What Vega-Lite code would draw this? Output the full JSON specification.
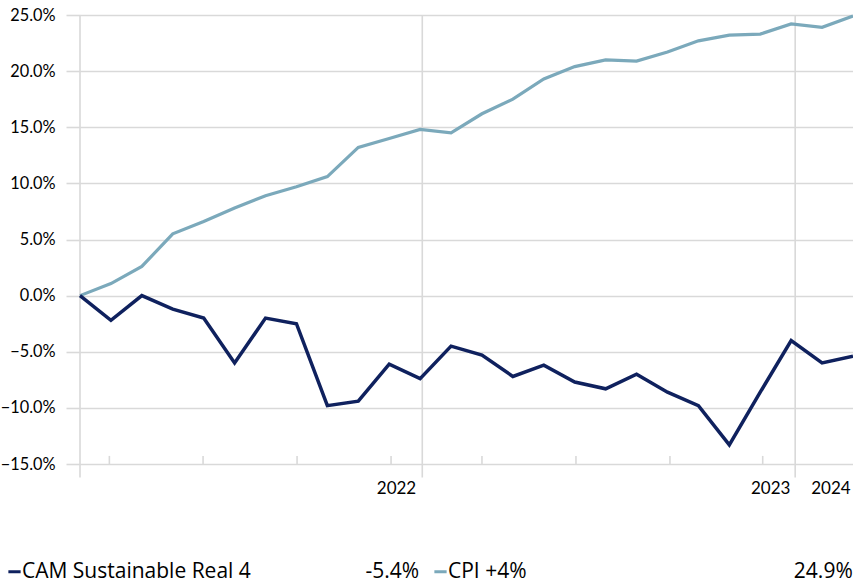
{
  "$schema": "https://vega.github.io/schema/vega-lite/v6.json",
  "width": 773,
  "height": 449,
  "autosize": {"type": "none"},
  "padding": {"left": 80, "top": 15, "right": 0, "bottom": 120},
  "background": "white",
  "config": {
    "view": {"stroke": null},
    "font": "Lato",
    "axis": {"labelFont": "Lato", "labelColor": "#000000"}
  },
  "datasets": {
    "series": [
      {"idx": 0, "series": "CPI +4%", "value": 0.0},
      {"idx": 1, "series": "CPI +4%", "value": 0.0107},
      {"idx": 2, "series": "CPI +4%", "value": 0.026},
      {"idx": 3, "series": "CPI +4%", "value": 0.055},
      {"idx": 4, "series": "CPI +4%", "value": 0.066},
      {"idx": 5, "series": "CPI +4%", "value": 0.078},
      {"idx": 6, "series": "CPI +4%", "value": 0.089},
      {"idx": 7, "series": "CPI +4%", "value": 0.097},
      {"idx": 8, "series": "CPI +4%", "value": 0.106},
      {"idx": 9, "series": "CPI +4%", "value": 0.132},
      {"idx": 10, "series": "CPI +4%", "value": 0.140},
      {"idx": 11, "series": "CPI +4%", "value": 0.148},
      {"idx": 12, "series": "CPI +4%", "value": 0.145},
      {"idx": 13, "series": "CPI +4%", "value": 0.162},
      {"idx": 14, "series": "CPI +4%", "value": 0.175},
      {"idx": 15, "series": "CPI +4%", "value": 0.193},
      {"idx": 16, "series": "CPI +4%", "value": 0.204},
      {"idx": 17, "series": "CPI +4%", "value": 0.210},
      {"idx": 18, "series": "CPI +4%", "value": 0.209},
      {"idx": 19, "series": "CPI +4%", "value": 0.217},
      {"idx": 20, "series": "CPI +4%", "value": 0.227},
      {"idx": 21, "series": "CPI +4%", "value": 0.232},
      {"idx": 22, "series": "CPI +4%", "value": 0.233},
      {"idx": 23, "series": "CPI +4%", "value": 0.242},
      {"idx": 24, "series": "CPI +4%", "value": 0.239},
      {"idx": 25, "series": "CPI +4%", "value": 0.249},
      {"idx": 0, "series": "CAM Sustainable Real 4", "value": 0.0},
      {"idx": 1, "series": "CAM Sustainable Real 4", "value": -0.022},
      {"idx": 2, "series": "CAM Sustainable Real 4", "value": 0.0},
      {"idx": 3, "series": "CAM Sustainable Real 4", "value": -0.012},
      {"idx": 4, "series": "CAM Sustainable Real 4", "value": -0.020},
      {"idx": 5, "series": "CAM Sustainable Real 4", "value": -0.060},
      {"idx": 6, "series": "CAM Sustainable Real 4", "value": -0.020},
      {"idx": 7, "series": "CAM Sustainable Real 4", "value": -0.025},
      {"idx": 8, "series": "CAM Sustainable Real 4", "value": -0.098},
      {"idx": 9, "series": "CAM Sustainable Real 4", "value": -0.094},
      {"idx": 10, "series": "CAM Sustainable Real 4", "value": -0.061},
      {"idx": 11, "series": "CAM Sustainable Real 4", "value": -0.074},
      {"idx": 12, "series": "CAM Sustainable Real 4", "value": -0.045},
      {"idx": 13, "series": "CAM Sustainable Real 4", "value": -0.053},
      {"idx": 14, "series": "CAM Sustainable Real 4", "value": -0.072},
      {"idx": 15, "series": "CAM Sustainable Real 4", "value": -0.062},
      {"idx": 16, "series": "CAM Sustainable Real 4", "value": -0.077},
      {"idx": 17, "series": "CAM Sustainable Real 4", "value": -0.083},
      {"idx": 18, "series": "CAM Sustainable Real 4", "value": -0.070},
      {"idx": 19, "series": "CAM Sustainable Real 4", "value": -0.086},
      {"idx": 20, "series": "CAM Sustainable Real 4", "value": -0.098},
      {"idx": 21, "series": "CAM Sustainable Real 4", "value": -0.133},
      {"idx": 22, "series": "CAM Sustainable Real 4", "value": -0.086},
      {"idx": 23, "series": "CAM Sustainable Real 4", "value": -0.040},
      {"idx": 24, "series": "CAM Sustainable Real 4", "value": -0.060},
      {"idx": 25, "series": "CAM Sustainable Real 4", "value": -0.054}
    ],
    "vlines": [
      {"idx": 0, "top": 0.25, "bottom": -0.162},
      {"idx": 11.07, "top": 0.25, "bottom": -0.162},
      {"idx": 23.13, "top": 0.25, "bottom": -0.162}
    ],
    "minorticks": [
      {"idx": 0.95, "top": -0.1428, "bottom": -0.15},
      {"idx": 3.98, "top": -0.1428, "bottom": -0.15},
      {"idx": 7.02, "top": -0.1428, "bottom": -0.15},
      {"idx": 10.06, "top": -0.1428, "bottom": -0.15},
      {"idx": 13.0, "top": -0.1428, "bottom": -0.15},
      {"idx": 16.04, "top": -0.1428, "bottom": -0.15},
      {"idx": 19.08, "top": -0.1428, "bottom": -0.15},
      {"idx": 22.08, "top": -0.1428, "bottom": -0.15}
    ]
  },
  "layer": [
    {
      "data": {"name": "vlines"},
      "mark": {"type": "rule", "color": "#d9d9d9", "strokeWidth": 1.6},
      "encoding": {
        "x": {"field": "idx", "type": "quantitative",
              "scale": {"domain": [0, 25], "nice": false, "zero": false},
              "axis": {
                "values": [10.22, 22.32, 24.27],
                "labelExpr": "datum.value < 11 ? '2022' : datum.value < 23 ? '2023' : '2024'",
                "ticks": false, "grid": false, "domain": false,
                "labelFontSize": 17, "labelPadding": 16.5,
                "labelFlush": false, "labelOverlap": false,
                "title": null
              }},
        "y": {"field": "top", "type": "quantitative",
              "scale": {"domain": [-0.15, 0.25], "nice": false},
              "axis": {
                "values": [-0.15, -0.1, -0.05, 0, 0.05, 0.1, 0.15, 0.2, 0.25],
                "format": ".1%",
                "grid": true, "gridColor": "#d9d9d9", "gridWidth": 1.6,
                "ticks": true, "tickColor": "#d9d9d9", "tickSize": 14, "tickWidth": 1.6,
                "domain": false,
                "labelFontSize": 16.3, "labelPadding": 11,
                "title": null
              }},
        "y2": {"field": "bottom"}
      }
    },
    {
      "data": {"name": "minorticks"},
      "mark": {"type": "rule", "color": "#d9d9d9", "strokeWidth": 1.6},
      "encoding": {
        "x": {"field": "idx", "type": "quantitative"},
        "y": {"field": "top", "type": "quantitative"},
        "y2": {"field": "bottom"}
      }
    },
    {
      "data": {"name": "series"},
      "transform": [{"filter": "datum.series == 'CPI +4%'"}],
      "mark": {"type": "line", "strokeWidth": 3.2, "strokeJoin": "miter"},
      "encoding": {
        "x": {"field": "idx", "type": "quantitative"},
        "y": {"field": "value", "type": "quantitative"},
        "color": {"field": "series", "type": "nominal",
          "scale": {"domain": ["CAM Sustainable Real 4", "CPI +4%"], "range": ["#0f215e", "#7ba9bb"]},
          "legend": {
            "orient": "none", "legendX": -76, "legendY": 546,
            "direction": "horizontal", "title": null,
            "padding": 0, "columnPadding": 8,
            "symbolType": "stroke", "symbolSize": 150, "symbolStrokeWidth": 3,
            "labelFont": "Open Sans", "labelFontSize": 21, "labelColor": "#000000",
            "labelOffset": -3, "labelLimit": 800,
            "labelExpr": "datum.label == 'CPI +4%' ? pad(datum.label, 56, '\u00a0') + '24.9%' : pad(datum.label, 43, '\u00a0') + '-5.4%'"
          }}
      }
    },
    {
      "data": {"name": "series"},
      "transform": [{"filter": "datum.series == 'CAM Sustainable Real 4'"}],
      "mark": {"type": "line", "strokeWidth": 3.5, "strokeJoin": "miter"},
      "encoding": {
        "x": {"field": "idx", "type": "quantitative"},
        "y": {"field": "value", "type": "quantitative"},
        "color": {"field": "series", "type": "nominal"}
      }
    }
  ]
}
